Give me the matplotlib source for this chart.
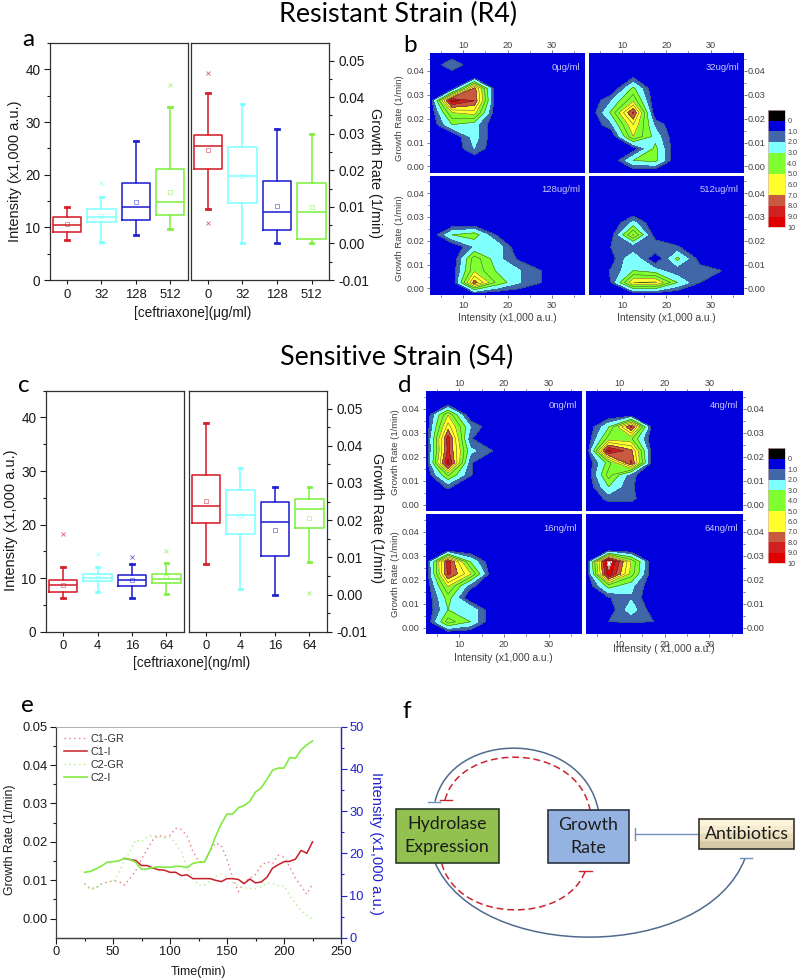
import numpy as np
import matplotlib
matplotlib.use('Agg')
import matplotlib.pyplot as plt
from matplotlib.colors import ListedColormap, BoundaryNorm
from matplotlib.path import Path
from matplotlib.patches import PathPatch, Rectangle
from matplotlib.ticker import MultipleLocator, FixedLocator, FormatStrFormatter

plt.rcParams['font.family'] = ['Liberation Sans', 'DejaVu Sans']
W, H = 800, 980
TXT = '#1a1a1a'

# ---------- data: box panels (low, q1, median, q3, high, mean, outliers) ----------
box_colors = ['#d4202c', '#80ffff', '#2222d0', '#80f040']
a_labels = ['0', '32', '128', '512']
a_int_low = [7.5, 7.3, 8.6, 9.7]
a_int_q1 = [9.2, 11.0, 11.3, 12.3]
a_int_med = [10.4, 11.9, 13.9, 14.9]
a_int_q3 = [12.0, 13.5, 18.5, 21.1]
a_int_high = [13.9, 15.8, 26.4, 32.9]
a_int_mean = [10.6, 12.2, 14.8, 16.7]
a_int_out = [[], [7.0, 18.4], [], [37.0]]
a_gr_low = [.0093, 0.0, 0.0, 0.0]
a_gr_q1 = [.0204, .0111, .0038, .0013]
a_gr_med = [.0266, .0185, .0087, .0085]
a_gr_q3 = [.0297, .0265, .0170, .0165]
a_gr_high = [.0411, .0380, .0313, .0298]
a_gr_mean = [.0255, .0185, .0102, .0099]
a_gr_out = [[.0055, .0465], [], [], []]

c_labels = ['0', '4', '16', '64']
c_int_low = [6.3, 7.4, 6.3, 7.0]
c_int_q1 = [7.5, 9.4, 8.6, 9.1]
c_int_med = [8.8, 10.0, 9.6, 9.9]
c_int_q3 = [9.6, 10.8, 10.6, 10.8]
c_int_high = [12.1, 12.1, 12.6, 12.9]
c_int_mean = [8.8, 10.1, 9.6, 10.2]
c_int_out = [[18.3], [14.6], [13.9], [15.1]]
c_gr_low = [.0083, .0016, 0.0, .0087]
c_gr_q1 = [.0191, .0162, .0104, .0178]
c_gr_med = [.0237, .0215, .0194, .0231]
c_gr_q3 = [.0320, .0280, .0248, .0258]
c_gr_high = [.0460, .0340, .0290, .0288]
c_gr_mean = [.0252, .0215, .0173, .0207]
c_gr_out = [[], [], [], [.0003]]

# ---------- data: contour maps (rows: growth 0.0475 down to -0.0025; columns: intensity) ----------
map_x = [2.5, 7.5, 12.5, 17.5, 22.5, 27.5, 32.5, 37.5]
map_y = [.0475, .0425, .0375, .0325, .0275, .0225, .0175, .0125, .0075, .0025, -.0025]
b_0 = [[0,0,0,0,0,0,0,0],[0,1.9,0,0,0,0,0,0],[0,0,0,0,0,0,0,0],[0,.3,7.5,0,0,0,0,0],
       [0,9.5,8,0,0,0,0,0],[0,5,5.5,0,0,0,0,0],[0,3,2.4,0,0,0,0,0],[0,0,2.5,0,0,0,0,0],
       [0,0,2,0,0,0,0,0],[0,0,0,0,0,0,0,0],[0,0,0,0,0,0,0,0]]
b_32 = [[0,0,0,0,0,0,0,0],[0,0,0,0,0,0,0,0],[0,0,.8,0,0,0,0,0],[0,0,3.3,0,0,0,0,0],
        [0,1.9,4.8,0,0,0,0,0],[0,3.2,8.2,0,0,0,0,0],[0,1.7,6,1.7,0,0,0,0],[0,0,5,2.6,0,0,0,0],
        [0,0,.3,3.3,0,0,0,0],[0,0,3,3.3,0,0,0,0],[0,0,0,0,0,0,0,0]]
b_128 = [[0,0,0,0,0,0,0,0],[0,0,0,0,0,0,0,0],[0,0,0,0,0,0,0,0],[0,0,0,0,0,0,0,0],
         [0,0,0,0,0,0,0,0],[0,3,3.6,.9,0,0,0,0],[0,0,2,2.8,0,0,0,0],[0,0,4.6,2.4,.8,0,0,0],
         [0,.3,4.8,2.9,2.1,1.02,0,0],[0,0,7.5,3.8,2.1,1.02,0,0],[0,0,0,0,0,0,0,0]]
b_512 = [[0,0,0,0,0,0,0,0],[0,0,0,0,0,0,0,0],[0,0,0,0,0,0,0,0],[0,0,0,0,0,0,0,0],
         [0,0,2.3,0,0,0,0,0],[0,.5,5.2,.3,0,0,0,0],[0,1.02,1.1,1.95,1.1,0,0,0],[0,.5,2.98,0,3.3,.6,0,0],
         [0,1.1,3,2.4,1.2,1.4,1,1],[0,1,6,6.2,3,1.02,0,0],[0,0,0,0,0,0,0,0]]
d_0 = [[0,0,0,0,0,0,0,0],[0,0,0,0,0,0,0,0],[0,5,0,0,0,0,0,0],[0,6.5,2,0,0,0,0,0],
       [0,8.5,1.1,0,0,0,0,0],[0,8.3,2.3,1,0,0,0,0],[0,9.3,1.1,0,0,0,0,0],[0,4.2,1.1,0,0,0,0,0],
       [0,1.2,0,0,0,0,0,0],[0,0,0,0,0,0,0,0],[0,0,0,0,0,0,0,0]]
d_4 = [[0,0,0,0,0,0,0,0],[0,0,0,0,0,0,0,0],[0,0,0,0,0,0,0,0],[0,2.9,8.2,0,0,0,0,0],
       [0,4.5,4.2,0,0,0,0,0],[0,9.3,7.3,0,0,0,0,0],[0,3.5,8.2,0,0,0,0,0],[0,4.5,1.3,0,0,0,0,0],
       [0,3,1.15,0,0,0,0,0],[0,1.3,1.3,0,0,0,0,0],[0,0,0,0,0,0,0,0]]
d_16 = [[0,0,0,0,0,0,0,0],[0,0,0,0,0,0,0,0],[0,0,0,0,0,0,0,0],[0,0,0,0,0,0,0,0],
        [0,8.5,3,0,0,0,0,0],[0,8.3,5.2,0,0,0,0,0],[0,5.2,1.3,0,0,0,0,0],[0,3.5,0,0,0,0,0,0],
        [0,3,2.9,0,0,0,0,0],[0,4.5,3,0,0,0,0,0],[0,0,0,0,0,0,0,0]]
d_64 = [[0,0,0,0,0,0,0,0],[0,0,0,0,0,0,0,0],[0,0,0,0,0,0,0,0],[0,0,0,0,0,0,0,0],
        [0,10.6,5,0,0,0,0,0],[0,9.7,4.6,0,0,0,0,0],[0,3.5,2.3,0,0,0,0,0],[0,.9,1.85,0,0,0,0,0],
        [0,.3,2.6,.3,0,0,0,0],[0,1,1.05,1,0,0,0,0],[0,0,0,0,0,0,0,0]]
band_levels = [0, 1, 2, 3, 5, 7, 8, 9, 10]
band_colors = ['#0000dc', '#4068a8', '#80ffff', '#80ff30', '#ffff30', '#c85a40', '#d02020', '#e00000']
bar_ticks = [0, 1, 2, 3, 4, 5, 6, 7, 8, 9, 10]
bar_labels = ['0', '1.0', '2.0', '3.0', '4.0', '5.0', '6.0', '7.0', '8.0', '9.0', '10']

# ---------- data: panel e ----------
t_long = [25,30,35,40,45,50,55,60,65,70,75,80,85,90,95,100,105,110,115,120,125,130,135,140,145,150,
          155,160,165,170,175,180,185,190,195,200,205,210,215,220,225]
c1_gr = [.0091,.0078,.008,.009,.0095,.0098,.0097,.0087,.0105,.0125,.0155,.018,.0205,.0217,.0212,.0217,
         .0235,.0232,.0215,.0175,.015,.0145,.0175,.0197,.019,.0155,.0105,.007,.0095,.0105,.0115,.0138,
         .0148,.0143,.0165,.016,.0135,.0105,.0085,.0063,.009]
c2_gr = [.009,.0075,.008,.009,.0095,.0095,.012,.015,.0175,.0205,.02,.0212,.0218,.0213,.021,.0212,
         .0195,.0175,.0135,.0105,.0087,.0087,.0097,.011,.0115,.011,.0095,.0085,.008,.0078,.0078,.0082,
         .0092,.0092,.0085,.0085,.006,.004,.002,.0008,-.0003]
c2_i = [15.5,15.7,16.3,17,17.9,18,18.2,18.8,18.5,17.9,16.2,16.3,16.6,16.8,16.7,16.7,16.9,16.9,16.6,17.6,
        17.9,17.9,20.5,24,27,29.3,29.3,30.8,31.3,32.3,34.5,35.5,37.5,39.7,40.2,40.2,42.7,42.5,44.5,45.7,46.6]
t_short = [60,65,70,75,80,85,90,95,100,105,110,115,120,125,130,135,140,145,150,155,160,165,170,175,180,
           185,190,195,200,205,210,215,220,225]
c1_i = [18.8,18.5,18.3,17.1,17.1,16.5,16.1,16,15.5,15.5,14.7,14.9,14,14,14,14,13.6,13.3,14,14,13.8,12.8,
        13.9,13,13.2,14.3,16.5,17.3,18,18.1,18.6,20.7,20,22.7]


fig = plt.figure(figsize=(W / 100, H / 100), dpi=100)


def px_axes(x0, y0, x1, y1, **kw):
    return fig.add_axes([x0 / W, 1 - y1 / H, (x1 - x0) / W, (y1 - y0) / H], **kw)


def ftext(x, y, s, **kw):
    kw.setdefault('ha', 'center')
    kw.setdefault('va', 'center')
    kw.setdefault('color', TXT)
    fig.text(x / W, 1 - y / H, s, **kw)


def box_axis(ax, low, q1, med, q3, high, mean, out, labels, xlim):
    stats = [dict(whislo=low[i], q1=q1[i], med=med[i], q3=q3[i], whishi=high[i], mean=mean[i],
                  fliers=out[i]) for i in range(4)]
    for i, c in enumerate(box_colors):
        ax.bxp([stats[i]], positions=[i + 1], widths=0.82, capwidths=0.1, showmeans=True,
               boxprops=dict(color=c, lw=1.15), medianprops=dict(color=c, lw=1.15),
               whiskerprops=dict(color=c, lw=1.15), capprops=dict(color=c, lw=2),
               meanprops=dict(marker='s', ms=2.6, mfc='none', mec=c, mew=.45, alpha=.75),
               flierprops=dict(marker='x', ms=2.4, mec=c, mew=.55, alpha=.8), manage_ticks=False)
    ax.set_xlim(*xlim)
    ax.set_xticks([1, 2, 3, 4], labels)
    ax.tick_params(axis='x', labelsize=9.4, length=3.2, width=.8, colors=TXT, pad=3)
    for s in ax.spines.values():
        s.set_linewidth(.9)
        s.set_color('#303030')


def box_panel(lbox, rbox, left, right, labels, xlims):
    axl = px_axes(*lbox)
    box_axis(axl, *left, labels, xlims[0])
    axl.set_ylim(0, 45)
    axl.yaxis.set_major_locator(MultipleLocator(10))
    axl.yaxis.set_minor_locator(MultipleLocator(5))
    axl.tick_params(axis='y', which='major', labelsize=9.8, length=4.5, width=.8, colors=TXT, pad=2.5)
    axl.tick_params(axis='y', which='minor', length=2.4, width=.8, colors=TXT)
    axr = px_axes(*rbox)
    box_axis(axr, *right, labels, xlims[1])
    axr.set_ylim(-.01, .0548)
    axr.yaxis.tick_right()
    axr.yaxis.set_major_locator(FixedLocator([-.01, 0, .01, .02, .03, .04, .05]))
    axr.yaxis.set_minor_locator(FixedLocator([-.005, .005, .015, .025, .035, .045]))
    axr.yaxis.set_major_formatter(FormatStrFormatter('%.2f'))
    axr.tick_params(axis='y', which='major', labelsize=9.8, length=3.8, width=.8, colors=TXT, pad=3)
    axr.tick_params(axis='y', which='minor', length=2.2, width=.8, colors=TXT)


a_left = (a_int_low, a_int_q1, a_int_med, a_int_q3, a_int_high, a_int_mean, a_int_out)
a_right = (a_gr_low, a_gr_q1, a_gr_med, a_gr_q3, a_gr_high, a_gr_mean, a_gr_out)
c_left = (c_int_low, c_int_q1, c_int_med, c_int_q3, c_int_high, c_int_mean, c_int_out)
c_right = (c_gr_low, c_gr_q1, c_gr_med, c_gr_q3, c_gr_high, c_gr_mean, c_gr_out)
box_panel((50, 43, 188, 280), (190.5, 43, 329, 280), a_left, a_right, a_labels, ((.5, 4.52), (.5, 4.5)))
box_panel((46, 390.7, 184.3, 631.7), (188.7, 390.7, 326.7, 631.7), c_left, c_right, c_labels, ((.5, 4.52), (.5, 4.5)))

for (x, y, s, rot, fs) in [(15.5, 171, 'Intensity (x1,000 a.u.)', 90, 10.5), (375, 173, 'Growth Rate (1/min)', 270, 10.4),
                           (11, 520, 'Intensity (x1,000 a.u.)', 90, 10.5), (376.5, 518, 'Growth Rate (1/min)', 270, 10.4)]:
    ftext(x, y, s, rotation=rot, fontsize=fs)
ftext(193, 313, '[ceftriaxone](\u03bcg/ml)', fontsize=9.8)
ftext(192, 663, '[ceftriaxone](ng/ml)', fontsize=9.8)

# ---------- contour panels ----------
cmap = ListedColormap(band_colors)
cmap.set_over('white')
norm = BoundaryNorm(band_levels, cmap.N, clip=False)
lilac = '#c8c8ff'


def map_axis(box, z, label, top, bottom, left, right):
    ax = px_axes(*box)
    ax.set_facecolor(band_colors[0])
    Z = np.array(z, dtype=float)
    ax.contourf(map_x, map_y, Z, levels=band_levels, cmap=cmap, norm=norm, extend='max')
    ax.contour(map_x, map_y, Z, levels=[1], colors='#2c4478', linewidths=.4)
    ax.contour(map_x, map_y, Z, levels=[3, 4, 5, 6, 7, 8, 9, 10], colors='#303030', linewidths=.3)
    ax.set_xlim(2.5, 37.5)
    ax.set_ylim(-.0026, .0473)
    ax.xaxis.set_major_locator(MultipleLocator(10))
    ax.xaxis.set_minor_locator(MultipleLocator(5))
    ax.yaxis.set_major_locator(FixedLocator([0, .01, .02, .03, .04]))
    ax.yaxis.set_minor_locator(FixedLocator([.005, .015, .025, .035, .045]))
    ax.yaxis.set_major_formatter(FormatStrFormatter('%.2f'))
    ax.tick_params(axis='both', which='both', top=top, bottom=bottom, left=left, right=right,
                   labeltop=top, labelbottom=bottom, labelleft=left, labelright=right,
                   labelsize=6.6, width=.5, colors='#404040')
    ax.tick_params(axis='x', pad=0 if top else 2)
    ax.tick_params(axis='y', pad=.6 if right else 2)
    ax.tick_params(axis='both', which='major', length=2.2)
    ax.tick_params(axis='both', which='minor', length=1.2)
    for s in ax.spines.values():
        s.set_visible(False)
    ax.text(.97, .885, label, transform=ax.transAxes, ha='right', va='center', color=lilac, fontsize=6.8)
    return ax


map_axis((430, 53.3, 585, 172.7), b_0, '0\u03bcg/ml', True, False, True, False)
map_axis((589, 53.3, 743.7, 172.7), b_32, '32ug/ml', True, False, False, True)
map_axis((430, 175.7, 585, 294.7), b_128, '128ug/ml', False, True, True, False)
map_axis((589, 175.7, 743.7, 294.7), b_512, '512ug/ml', False, True, False, True)
map_axis((425.7, 391.3, 582, 511), d_0, '0ng/ml', True, False, True, False)
map_axis((586.3, 391.3, 743, 511), d_4, '4ng/ml', True, False, False, True)
map_axis((425.7, 514.3, 582, 634), d_16, '16ng/ml', False, True, True, False)
map_axis((586.3, 514.3, 743, 634), d_64, '64ng/ml', False, True, False, True)


def level_bar(box):
    ax = px_axes(*box)
    edges = [-1] + band_levels
    colors = ['black'] + band_colors
    ax.bar([0] * len(colors), np.diff(edges), bottom=edges[:-1], width=1, color=colors, align='center')
    ax.set_xlim(-.5, .5)
    ax.set_ylim(10, -1)
    ax.set_xticks([])
    ax.yaxis.tick_right()
    ax.set_yticks(bar_ticks, bar_labels)
    ax.tick_params(axis='y', length=0, labelsize=5.2, labelcolor='#404040', pad=2)
    for s in ax.spines.values():
        s.set_color('#d8b8b8')
        s.set_linewidth(.5)


level_bar((768, 110, 784.5, 227.3))
level_bar((768, 448.5, 785, 563.3))

for (x, y, s) in [(399, 118, 'Growth Rate (1/min)'), (399, 238, 'Growth Rate (1/min)'),
                  (395, 452, 'Growth Rate (1/min)'), (395, 574, 'Growth Rate (1/min)')]:
    ftext(x, y, s, rotation=90, fontsize=6.8, color='#404040')
for (x, y, s) in [(507.7, 318, 'Intensity (x1,000 a.u.)'), (666, 318, 'Intensity (x1,000 a.u.)'),
                  (503, 658, 'Intensity (x1,000 a.u.)'), (664, 649, 'Intensity ( x1,000 a.u.)')]:
    ftext(x, y, s, fontsize=7.4, color='#404040')

# ---------- panel e ----------
ax = px_axes(56, 726.7, 341, 937.7)
ax2 = ax.twinx()
l1, = ax.plot(t_long, c1_gr, color='#e87888', lw=1, ls=(0, (1, 2.5)), label='C1-GR')
l3, = ax.plot(t_long, c2_gr, color='#b0f088', lw=1, ls=(0, (1, 2.5)), label='C2-GR')
l2, = ax2.plot(t_short, c1_i, color='#c81e28', lw=1.1, label='C1-I')
l4, = ax2.plot(t_long, c2_i, color='#80ea40', lw=1.2, label='C2-I')
ax.set_xlim(0, 250)
ax.set_ylim(-.005, .05)
ax2.set_ylim(0, 50)
ax.xaxis.set_major_locator(MultipleLocator(50))
ax.xaxis.set_minor_locator(MultipleLocator(25))
ax.yaxis.set_major_locator(FixedLocator([0, .01, .02, .03, .04, .05]))
ax.yaxis.set_minor_locator(FixedLocator([.005, .015, .025, .035, .045]))
ax.yaxis.set_major_formatter(FormatStrFormatter('%.2f'))
ax.tick_params(axis='both', which='major', labelsize=9.3, length=4, width=.8, colors=TXT, pad=2)
ax.tick_params(axis='both', which='minor', length=2, width=.8, colors=TXT)
ax2.yaxis.set_major_locator(MultipleLocator(10))
ax2.yaxis.set_minor_locator(MultipleLocator(5))
ax2.tick_params(axis='y', which='major', labelsize=9.3, length=4, width=.8, colors='#2222cc', pad=2)
ax2.tick_params(axis='y', which='minor', length=2, width=.8, colors='#2222cc')
for a_ in (ax, ax2):
    for k, s in a_.spines.items():
        s.set_color('#404040')
        s.set_linewidth(.9)
    a_.spines['top'].set_linewidth(.5)
    a_.spines['top'].set_color('#aaaaaa')
ax2.spines['right'].set_color('#2222cc')
ax2.spines['left'].set_visible(False)
ax.legend([l1, l2, l3, l4], ['C1-GR', 'C1-I', 'C2-GR', 'C2-I'], loc='upper left', frameon=False, fontsize=7.8,
          handlelength=2.1, handletextpad=.35, labelspacing=.27, borderaxespad=0,
          bbox_to_anchor=(.013, .985), labelcolor='#303030')
ftext(10, 840, 'Growth Rate (1/min)', rotation=90, fontsize=8.8)
ftext(376, 843, 'Intensity (x1,000 a.u.)', rotation=270, fontsize=10.6, color='#2222cc')
ftext(198, 972, 'Time(min)', fontsize=9)

# ---------- titles and panel letters ----------
for (x, y, s) in [(398, 14, 'Resistant Strain (R4)'), (397, 357, 'Sensitive Strain (S4)')]:
    ftext(x, y, s, fontsize=19.4, family='Lato', color='black')
for (x, y, s) in [(28, 40, 'a'), (410, 45, 'b'), (24, 385, 'c'), (405, 385, 'd'), (27, 706, 'e'), (407, 711, 'f')]:
    ftext(x, y, s, fontsize=17.5, family='Lato', color='black')

# ---------- panel f: schematic ----------
ov = fig.add_axes([0, 0, 1, 1], facecolor='none')
ov.set_xlim(0, W)
ov.set_ylim(H, 0)
ov.axis('off')


def fz(x, y):
    return x / 3 + 395, y / 3 + 670


def curve(p0, c1, c2, p1, **kw):
    ov.add_patch(PathPatch(Path([fz(*p0), fz(*c1), fz(*c2), fz(*p1)],
                               [Path.MOVETO, Path.CURVE4, Path.CURVE4, Path.CURVE4]), fc='none', **kw))


def seg(x0, y0, x1, y1, **kw):
    a0, b0 = fz(x0, y0)
    a1, b1 = fz(x1, y1)
    ov.plot([a0, a1], [b0, b1], **kw)


gray_blue = '#506a8e'
red_dash = '#cc2530'
curve((120, 395), (170, 177), (560, 177), (610, 420), ec=gray_blue, lw=1.1)
curve((120, 578), (250, 878), (930, 878), (1050, 565), ec=gray_blue, lw=1.1)
curve((150, 390), (195, 214), (545, 214), (585, 420), ec=red_dash, lw=1.1, ls=(0, (4.5, 2.5)))
curve((140, 580), (190, 762), (510, 762), (570, 605), ec=red_dash, lw=1.1, ls=(0, (4.5, 2.5)))
seg(100, 395, 135, 395, color='#6f8fbf', lw=1)
seg(135, 390, 172, 390, color=red_dash, lw=1)
seg(552, 603, 590, 603, color=red_dash, lw=1)
seg(1035, 563, 1072, 563, color='#6f8fbf', lw=1)
seg(720, 474, 720, 511, color='#6f8fbf', lw=1)
seg(720, 492, 912, 492, color='#6f8fbf', lw=1)
ov.add_patch(Rectangle((395.7, 809), 103.3, 53.7, fc='#93c150', ec='#2b3a28', lw=1.2))
ov.add_patch(Rectangle((548.3, 810), 80.7, 53.3, fc='#95b3e0', ec='#2a3344', lw=1.2))
grad = np.linspace(0, 1, 40)[:, None]
ov.imshow(grad, extent=(699, 793.7, 849.3, 819), cmap=ListedColormap(['#fdf4dc', '#f6ebcf', '#e8dcba', '#d6caa6']),
          aspect='auto', zorder=2)
ov.set_xlim(0, W)
ov.set_ylim(H, 0)
ov.add_patch(Rectangle((699, 819), 94.7, 30.3, fc='none', ec='#33332c', lw=1.2, zorder=3))
for (x, y, s) in [(447, 824, 'Hydrolase'), (447, 847, 'Expression'), (588.5, 825, 'Growth'), (588.5, 848, 'Rate'),
                  (746.5, 834, 'Antibiotics')]:
    ov.text(x, y, s, ha='center', va='center', fontsize=12.8, family='Lato', color='#1c1c1c', zorder=4)

fig.savefig('out.png', dpi=100)
